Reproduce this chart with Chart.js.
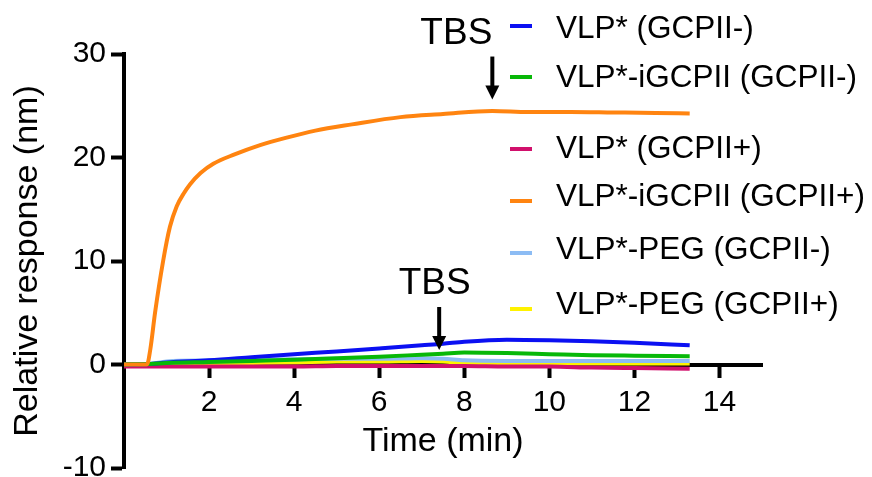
<!DOCTYPE html>
<html>
<head>
<meta charset="utf-8">
<script src="https://cdn.jsdelivr.net/npm/chart.js@4"></script>
<style>
  body { margin: 0; background: #fff; }
  #wrap { width: 872px; height: 477px; position: relative; }
</style>
</head>
<body>
<div id="wrap"><canvas id="bli-chart"></canvas></div>
<script>
// series labels, in legend order
const seriesNames = [
    'VLP* (GCPII-)',
    'VLP*-iGCPII (GCPII-)',
    'VLP* (GCPII+)',
    'VLP*-iGCPII (GCPII+)',
    'VLP*-PEG (GCPII-)',
    'VLP*-PEG (GCPII+)'
];
const seriesColors = ['#0b10f2', '#08b808', '#d1106c', '#ff8410', '#8cbcf4', '#fff200'];

// shared time grid (min) for the slow curves
const timeSlow = [0, 0.6, 1, 2, 3, 4, 5, 6, 7, 7.5, 8, 9, 10, 11, 12, 13.3];
const vlpNeg = [0, 0.05, 0.2, 0.4, 0.7, 1.0, 1.25, 1.55, 1.85, 2.0, 2.2, 2.4, 2.35, 2.25, 2.1, 1.85];
const iGcpNeg = [0, 0.05, 0.15, 0.25, 0.35, 0.45, 0.6, 0.75, 0.95, 1.05, 1.15, 1.1, 1.0, 0.9, 0.85, 0.8];
const vlpPos = [-0.2, -0.2, -0.2, -0.2, -0.2, -0.2, -0.15, -0.15, -0.15, -0.15, -0.15, -0.2, -0.2, -0.3, -0.35, -0.4];
const pegNeg = [0, 0.05, 0.3, 0.4, 0.45, 0.5, 0.55, 0.55, 0.6, 0.55, 0.4, 0.35, 0.35, 0.35, 0.35, 0.35];
const pegPos = [0, 0, 0.05, 0.1, 0.15, 0.2, 0.3, 0.3, 0.35, 0.3, 0.15, 0.1, 0.1, 0.1, 0.1, 0.1];

// the binding curve has its own, denser time grid
const timeBind = [0, 0.54, 0.62, 0.73, 0.92, 1.08, 1.24, 1.4, 1.55, 1.8, 2.1, 2.6, 3.2, 3.8, 4.5, 5.36, 6.5, 7.5, 8.66, 9.5, 10.5, 11.5, 12.5, 13.3];
const iGcpPos = [0, 0, 1.5, 5, 10, 13.3, 15.3, 16.5, 17.4, 18.5, 19.4, 20.3, 21.2, 21.9, 22.6, 23.2, 23.9, 24.2, 24.5, 24.4, 24.4, 24.35, 24.3, 24.25];

const xTicks = [2, 4, 6, 8, 10, 12, 14];
const yTicks = [-10, 0, 10, 20, 30];

// buffer switch markers: time and response at the arrow tip
const tbsTimes = [8.66, 7.41];
const tbsTips = [25.6, 1.4];
const tbsShift = [-36, -4.5];

function pts(xs, ys) {
    return xs.map((x, i) => ({ x: x, y: ys[i] }));
}

const seriesData = [
    pts(timeSlow, vlpNeg),
    pts(timeSlow, iGcpNeg),
    pts(timeSlow, vlpPos),
    pts(timeBind, iGcpPos),
    pts(timeSlow, pegNeg),
    pts(timeSlow, pegPos)
];
// draw order: orange on top, then magenta, green, blue...
const drawOrder = [3, 2, 4, 0, 5, 6];

const FONT = '"Liberation Sans", Arial, sans-serif';

const extrasPlugin = {
    id: 'extras',
    afterDraw(chart) {
        const ctx = chart.ctx;
        const xs = chart.scales.x, ys = chart.scales.y;
        ctx.save();
        // arrows with TBS labels
        tbsTimes.forEach((t, i) => {
            const px = xs.getPixelForValue(t);
            const tip = ys.getPixelForValue(tbsTips[i]);
            ctx.strokeStyle = '#000';
            ctx.fillStyle = '#000';
            ctx.lineWidth = 4;
            ctx.beginPath();
            ctx.moveTo(px, tip - 43);
            ctx.lineTo(px, tip - 10);
            ctx.stroke();
            ctx.beginPath();
            ctx.moveTo(px - 7, tip - 14);
            ctx.lineTo(px + 7, tip - 14);
            ctx.lineTo(px, tip);
            ctx.closePath();
            ctx.fill();
            ctx.font = '37px ' + FONT;
            ctx.textAlign = 'center';
            ctx.textBaseline = 'middle';
            ctx.fillText('TBS', px + tbsShift[i], tip - 66);
        });
        // legend
        const textRows = [29, 78, 149, 197, 250, 305];
        const markRows = [26, 77, 149, 201, 253, 309];
        ctx.font = '31.5px ' + FONT;
        ctx.textAlign = 'left';
        ctx.textBaseline = 'middle';
        seriesNames.forEach((name, i) => {
            ctx.strokeStyle = seriesColors[i];
            ctx.lineWidth = 4;
            ctx.beginPath();
            ctx.moveTo(510, markRows[i]);
            ctx.lineTo(532, markRows[i]);
            ctx.stroke();
            ctx.fillStyle = '#000';
            ctx.fillText(name, 556, textRows[i]);
        });
        ctx.restore();
    }
};

const ctx = document.getElementById('bli-chart').getContext('2d');
const chart = new Chart(ctx, {
    type: 'line',
    data: {
        datasets: seriesNames.map((name, i) => ({
            label: name,
            data: seriesData[i],
            borderColor: seriesColors[i],
            backgroundColor: seriesColors[i],
            borderWidth: 4,
            pointRadius: 0,
            fill: false,
            cubicInterpolationMode: 'monotone',
            order: drawOrder[i]
        }))
    },
    options: {
        responsive: true,
        maintainAspectRatio: false,
        animation: false,
        layout: { padding: { top: 54, right: 110, bottom: 9, left: 0 } },
        plugins: {
            legend: { display: false },
            tooltip: { enabled: false }
        },
        scales: {
            x: {
                type: 'linear',
                min: 0,
                max: 15,
                position: { y: 0 },
                afterBuildTicks: (scale) => { scale.ticks = xTicks.map(v => ({ value: v })); },
                afterFit: (scale) => { scale.paddingLeft = 0; scale.paddingRight = 0; },
                ticks: {
                    color: '#000',
                    font: { family: FONT, size: 30 },
                    padding: 9,
                    maxRotation: 0,
                    autoSkip: false
                },
                grid: { display: true, drawOnChartArea: false, tickLength: 11, tickWidth: 4, tickColor: '#000' },
                border: { display: true, width: 4, color: '#000' },
                title: {
                    display: true,
                    text: 'Time (min)',
                    color: '#000',
                    font: { family: FONT, size: 34 },
                    padding: { top: -8, bottom: 4 }
                }
            },
            y: {
                type: 'linear',
                min: -10,
                max: 30,
                position: 'left',
                afterBuildTicks: (scale) => { scale.ticks = yTicks.map(v => ({ value: v })); },
                afterFit: (scale) => {
                    scale.width = 124;
                    scale.paddingTop = 0;
                    scale.paddingBottom = 0;
                },
                ticks: {
                    color: '#000',
                    font: { family: FONT, size: 30 },
                    padding: 5
                },
                grid: { display: true, drawOnChartArea: false, tickLength: 13, tickWidth: 4, tickColor: '#000' },
                border: { display: true, width: 4, color: '#000' },
                title: {
                    display: true,
                    text: 'Relative response (nm)',
                    color: '#000',
                    font: { family: FONT, size: 34 },
                    padding: { top: 7, bottom: 0 }
                }
            }
        }
    },
    plugins: [extrasPlugin]
});
</script>
</body>
</html>
